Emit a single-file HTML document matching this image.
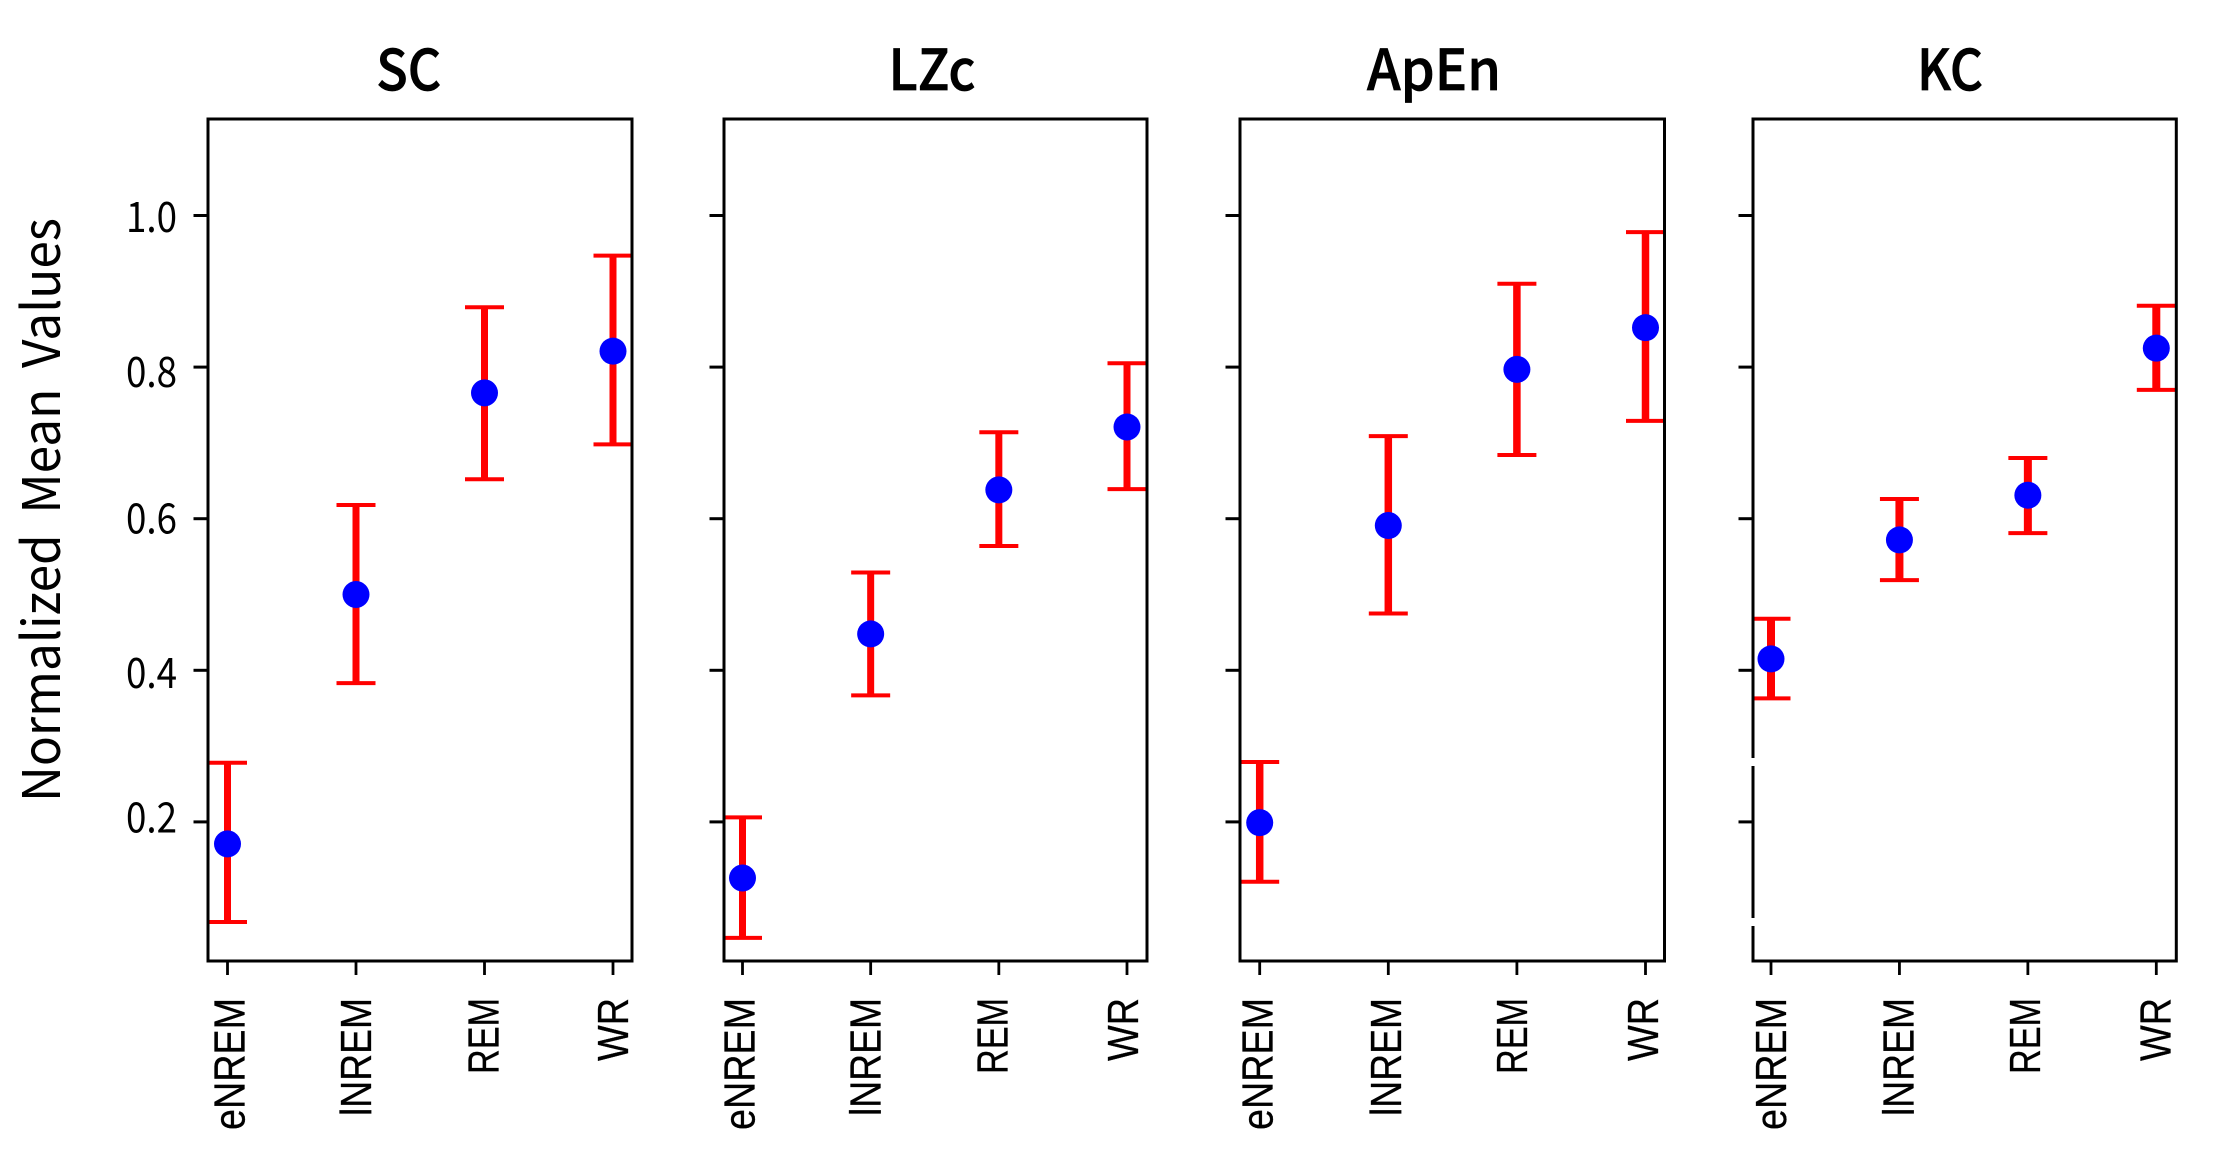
<!DOCTYPE html>
<html lang="en">
<head>
<meta charset="utf-8">
<title>Normalized Mean Values by Sleep Stage</title>
<style>
  html, body { margin: 0; padding: 0; background: #fff; width: 2215px; height: 1168px; overflow: hidden; }
  svg { display: block; }
  .num { font-family: "Noto Sans CJK JP", "Liberation Sans", sans-serif; font-weight: 400; }
  .ttl { font-family: "Noto Sans CJK JP", "Liberation Sans", sans-serif; font-weight: 500; }
  .cat { font-family: "Liberation Sans", sans-serif; }
</style>
</head>
<body>
<svg id="chart" xmlns="http://www.w3.org/2000/svg" width="2215" height="1168" viewBox="0 0 2215 1168">
  <rect x="0" y="0" width="2215" height="1168" fill="#ffffff"/>
  <text id="ytitle" class="num" transform="translate(60,802) rotate(-90)" font-size="52" word-spacing="10" textLength="584" lengthAdjust="spacingAndGlyphs" fill="#000">Normalized Mean Values</text>
</svg>
<script>
// ---- data ----
const categories = ['eNREM', 'lNREM', 'REM', 'WR'];
const metrics = ['SC', 'LZc', 'ApEn', 'KC'];
const yTicks = [1.0, 0.8, 0.6, 0.4, 0.2];
const yTickLabels = ['1.0', '0.8', '0.6', '0.4', '0.2'];

const scMean = [0.171, 0.500, 0.766, 0.821];
const scUpper = [0.278, 0.618, 0.879, 0.947];
const scLower = [0.068, 0.383, 0.652, 0.698];

const lzcMean = [0.126, 0.448, 0.638, 0.721];
const lzcUpper = [0.206, 0.529, 0.714, 0.805];
const lzcLower = [0.047, 0.367, 0.564, 0.639];

const apenMean = [0.199, 0.591, 0.797, 0.852];
const apenUpper = [0.279, 0.709, 0.910, 0.978];
const apenLower = [0.121, 0.475, 0.684, 0.729];

const kcMean = [0.415, 0.572, 0.631, 0.825];
const kcUpper = [0.468, 0.626, 0.680, 0.881];
const kcLower = [0.363, 0.519, 0.581, 0.770];

const means = [scMean, lzcMean, apenMean, kcMean];
const uppers = [scUpper, lzcUpper, apenUpper, kcUpper];
const lowers = [scLower, lzcLower, apenLower, kcLower];

// ---- layout (separate from data) ----
const frameLeft = [208, 724, 1240, 1753];
const frameRight = [632, 1147, 1664.5, 2176.3];
const firstTick = [227.5, 742.5, 1259.7, 1771];
const lastTick = [613, 1127, 1645.5, 2156.3];
const titleCenter = [408.7, 932, 1434, 1950];
const titleLength = [65, 87, 134, 66];
const catLength = [132, 118, 76, 63];
const labelNudge = [16.5, 20, 15, 17.7, 10.7];
const catNudge = [[17, 15, 14, 15], [12, 10, 8.5, 11], [13, 12.6, 10.3, 12.6], [15, 14, 12, 14]];
const stemWidth = [7, 7, 7.5, 8];
const frameTop = 119;
const frameBottom = 961;

const svg = document.getElementById('chart');
const NS = 'http://www.w3.org/2000/svg';

function yScale(v) { return 215.5 + (1 - v) * 758; }
function xScale(p, i) { return firstTick[p] + (lastTick[p] - firstTick[p]) * i / (categories.length - 1); }

function make(tag, attrs, parent) {
  const el = document.createElementNS(NS, tag);
  for (const k in attrs) el.setAttribute(k, attrs[k]);
  (parent || svg).appendChild(el);
  return el;
}

const defs = make('defs', {});



metrics.forEach(function (metric, p) {
  const group = make('g', {});
  
  

  const clip = make('clipPath', { id: 'clip' + p }, defs);
  make('rect', { x: frameLeft[p], y: frameTop, width: frameRight[p] - frameLeft[p], height: frameBottom - frameTop }, clip);

  const title = make('text', { x: titleCenter[p], y: 90, 'text-anchor': 'middle', 'font-size': 56, textLength: titleLength[p], lengthAdjust: 'spacingAndGlyphs', fill: '#000', stroke: '#000', 'stroke-width': 0.7, class: 'ttl' }, group);
  
  
  title.textContent = metric;

  // y ticks
  yTicks.forEach(function (t, k) {
    const tick = make('line', { x1: frameLeft[p] - 14.5, x2: frameLeft[p], y1: yScale(t), y2: yScale(t), stroke: '#000', 'stroke-width': 3 }, group);
    
    
    if (p === 0) {
      const lab = make('text', { x: 177, y: yScale(t) + labelNudge[k], 'text-anchor': 'end', 'font-size': 42, textLength: 51, lengthAdjust: 'spacingAndGlyphs', fill: '#000', class: 'num' }, group);
      
      
      lab.textContent = yTickLabels[k];
    }
  });

  // x ticks and labels
  categories.forEach(function (c, i) {
    const tx = xScale(p, i);
    const tick = make('line', { x1: tx, x2: tx, y1: frameBottom, y2: frameBottom + 14, stroke: '#000', 'stroke-width': 2.8 }, group);
    
    

    const lab = make('text', { transform: 'translate(' + (tx + catNudge[p][i]) + ',998) rotate(-90)', 'text-anchor': 'end', 'font-size': 44, textLength: catLength[i], lengthAdjust: 'spacingAndGlyphs', fill: '#000', stroke: '#000', 'stroke-width': 0.3, class: 'cat' }, group);
    
    
    lab.textContent = c;
  });

  // error bars
  const marks = make('g', { 'clip-path': 'url(#clip' + p + ')' }, group);
  
  

  categories.forEach(function (c, i) {
    const cx = xScale(p, i);
    const top = yScale(uppers[p][i]);
    const bot = yScale(lowers[p][i]);

    const stem = make('line', { x1: cx, x2: cx, y1: top, y2: bot, stroke: '#ff0000', 'stroke-width': stemWidth[p] }, marks);
    
    

    const capTop = make('line', { x1: cx - 19.5, x2: cx + 19.5, y1: top, y2: top, stroke: '#ff0000', 'stroke-width': 4 }, marks);
    
    

    const capBot = make('line', { x1: cx - 19.5, x2: cx + 19.5, y1: bot, y2: bot, stroke: '#ff0000', 'stroke-width': 4 }, marks);
    
    

    const pt = make('circle', { cx: cx, cy: yScale(means[p][i]), r: 13.5, fill: '#0000ff' }, marks);
    
    
  });

  // axes frame
  const frame = make('rect', { x: frameLeft[p], y: frameTop, width: frameRight[p] - frameLeft[p], height: frameBottom - frameTop, fill: 'none', stroke: '#000', 'stroke-width': 3 }, group);
  
  
});

// small erased spots on the last panel's left spine
[[758, 8], [918, 8]].forEach(function (spot) {
  const notch = make('rect', { x: frameLeft[3] - 2, y: spot[0], width: 4, height: spot[1], fill: '#ffffff' });
  
  
});
</script>
</body>
</html>
